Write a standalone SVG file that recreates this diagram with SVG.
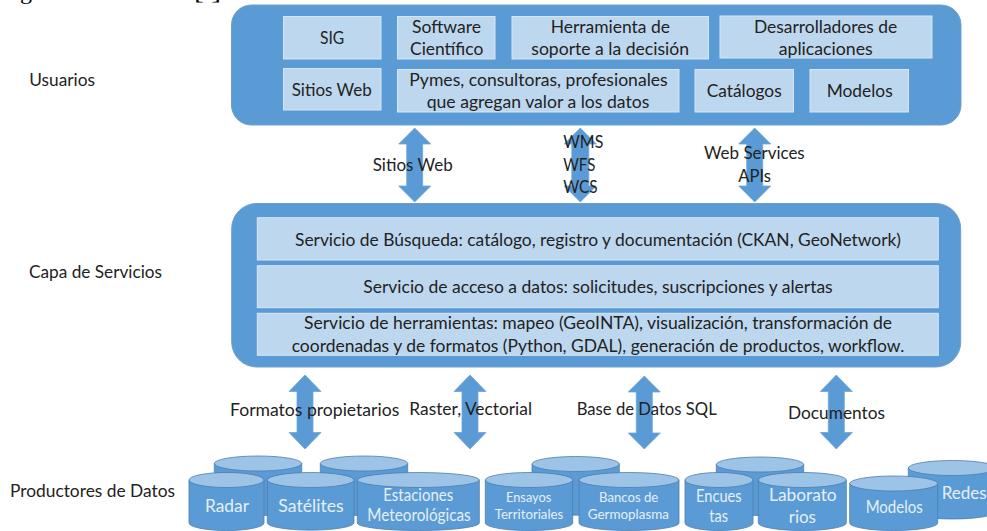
<svg xmlns="http://www.w3.org/2000/svg" width="987" height="531" viewBox="0 0 987 531">
<style>
text{font-family:"Lato","Carlito","Liberation Sans",sans-serif;font-size:17px;fill:#222}
.panel{fill:#5b9bd5;stroke:#6f9fc9;stroke-width:1}
.box{fill:#bdd7ee;stroke:#d6e6f5;stroke-width:1}
.arrow{fill:#5b9bd5;stroke:#6fa5d8;stroke-width:.8}
.body{fill:#5b9bd5;stroke:#4a7eb0;stroke-width:.8}
.lid{fill:#9dc3e6;stroke:#4a7eb0;stroke-width:.8}
text.w{fill:#e6eff8}
text.s{font-size:14px}
text.c{font-family:"Liberation Serif",serif;font-size:20px;fill:#000}
</style>
<text class="c" x="20" y="-1" textLength="12" lengthAdjust="spacingAndGlyphs">g</text>
<text class="c" x="194" y="-1" textLength="27" lengthAdjust="spacingAndGlyphs">[ ]</text>
<g id="labels">
<text x="29.3" y="86" textLength="65.7" lengthAdjust="spacingAndGlyphs">Usuarios</text>
<text x="29" y="278" textLength="133" lengthAdjust="spacingAndGlyphs">Capa de Servicios</text>
<text x="10" y="497" textLength="165" lengthAdjust="spacingAndGlyphs">Productores de Datos</text>
</g>
<g id="usuarios">
<rect class="panel" x="231.5" y="5" width="729.5" height="120" rx="20"/>
<rect class="box" x="283.5" y="16.5" width="97.5" height="42.5"/>
<rect class="box" x="397.5" y="16.5" width="97.5" height="42.5"/>
<rect class="box" x="512" y="16.5" width="196.5" height="42.5"/>
<rect class="box" x="720" y="16" width="212" height="42"/>
<rect class="box" x="283.5" y="68.5" width="97.5" height="41.5"/>
<rect class="box" x="397.5" y="69.5" width="281.5" height="42.5"/>
<rect class="box" x="695" y="69.5" width="98.5" height="42.5"/>
<rect class="box" x="810" y="69.5" width="98.5" height="42.5"/>
<text x="320" y="44" textLength="24.3" lengthAdjust="spacingAndGlyphs">SIG</text>
<text x="412" y="32.5" textLength="69" lengthAdjust="spacingAndGlyphs">Software</text>
<text x="410" y="55" textLength="73.3" lengthAdjust="spacingAndGlyphs">Científico</text>
<text x="550.7" y="32.5" textLength="119.3" lengthAdjust="spacingAndGlyphs">Herramienta de</text>
<text x="531.3" y="55" textLength="157.7" lengthAdjust="spacingAndGlyphs">soporte a la decisión</text>
<text x="754" y="32.5" textLength="143.3" lengthAdjust="spacingAndGlyphs">Desarrolladores de</text>
<text x="778.7" y="55" textLength="94" lengthAdjust="spacingAndGlyphs">aplicaciones</text>
<text x="291.7" y="95.5" textLength="80" lengthAdjust="spacingAndGlyphs">Sitios Web</text>
<text x="409.3" y="85.5" textLength="258.4" lengthAdjust="spacingAndGlyphs">Pymes, consultoras, profesionales</text>
<text x="426.7" y="108" textLength="222.6" lengthAdjust="spacingAndGlyphs">que agregan valor a los datos</text>
<text x="706.7" y="96.5" textLength="75" lengthAdjust="spacingAndGlyphs">Catálogos</text>
<text x="826.7" y="96.5" textLength="66" lengthAdjust="spacingAndGlyphs">Modelos</text>
</g>
<g id="servicios">
<rect class="panel" x="231.7" y="203.5" width="729" height="163.5" rx="25"/>
<rect class="box" x="257.3" y="217.7" width="681" height="42.3"/>
<rect class="box" x="257.3" y="265.7" width="681" height="42"/>
<rect class="box" x="257.3" y="313.3" width="681" height="42"/>
<text x="295" y="245.7" textLength="606" lengthAdjust="spacingAndGlyphs">Servicio de Búsqueda: catálogo, registro y documentación (CKAN, GeoNetwork)</text>
<text x="363.3" y="293.3" textLength="469.4" lengthAdjust="spacingAndGlyphs">Servicio de acceso a datos: solicitudes, suscripciones y alertas</text>
<text x="304" y="329.3" textLength="588" lengthAdjust="spacingAndGlyphs">Servicio de herramientas: mapeo (GeoINTA), visualización, transformación de</text>
<text x="291.7" y="351.7" textLength="612.6" lengthAdjust="spacingAndGlyphs">coordenadas y de formatos (Python, GDAL), generación de productos, workflow.</text>
</g>
<g id="connectors">
<path class="arrow" d="M414.7 128l16 16h-8v42h8l-16 16-16-16h8v-42h-8z"/>
<path class="arrow" d="M580.3 128l16 16h-7.5v42h7.5l-16 16-16-16h7.5v-42h-7.5z"/>
<path class="arrow" d="M754.7 128l16 16h-8v42h8l-16 16-16-16h8v-42h-8z"/>
<path class="arrow" d="M305 375l16 16.5h-8v41h8l-16 16.5-16-16.5h8v-41h-8z"/>
<path class="arrow" d="M470 375l16 16.5h-8v41h8l-16 16.5-16-16.5h8v-41h-8z"/>
<path class="arrow" d="M644.3 376l16 16h-8v41h8l-16 16-16-16h8v-41h-8z"/>
<path class="arrow" d="M836.3 375l16 16.5h-8v41h8l-16 16.5-16-16.5h8v-41h-8z"/>
</g>
<g id="connector-labels">
<text x="372.7" y="170.7" textLength="80" lengthAdjust="spacingAndGlyphs">Sitios Web</text>
<text x="563.3" y="148.3" textLength="40" lengthAdjust="spacingAndGlyphs">WMS</text>
<text x="563.3" y="170.7" textLength="32" lengthAdjust="spacingAndGlyphs">WFS</text>
<text x="563.3" y="193.3" textLength="34.4" lengthAdjust="spacingAndGlyphs">WCS</text>
<text x="704" y="159.3" textLength="100.7" lengthAdjust="spacingAndGlyphs">Web Services</text>
<text x="738.3" y="182" textLength="32.7" lengthAdjust="spacingAndGlyphs">APIs</text>
<text x="230" y="416" textLength="169.3" lengthAdjust="spacingAndGlyphs">Formatos propietarios</text>
<text x="409.3" y="415" textLength="122.7" lengthAdjust="spacingAndGlyphs">Raster, Vectorial</text>
<text x="576.7" y="415" textLength="140" lengthAdjust="spacingAndGlyphs">Base de Datos SQL</text>
<text x="788" y="419.3" textLength="97" lengthAdjust="spacingAndGlyphs">Documentos</text>
</g>
<g id="db-back-1"><path class="body" d="M214.3 463.5V508A43.7 7.5 0 0 0 301.7 508V463.5z"/><ellipse class="lid" cx="258" cy="463.5" rx="43.7" ry="7.5"/></g>
<g id="db-back-2"><path class="body" d="M320.3 463.5V508A43.7 7.5 0 0 0 407.7 508V463.5z"/><ellipse class="lid" cx="364" cy="463.5" rx="43.7" ry="7.5"/></g>
<g id="db-back-3"><path class="body" d="M532 464V508A43.7 7.5 0 0 0 619.3 508V464z"/><ellipse class="lid" cx="575.7" cy="464" rx="43.7" ry="7.5"/></g>
<g id="db-back-4"><path class="body" d="M716.3 464.5V508A43.7 7.5 0 0 0 803.7 508V464.5z"/><ellipse class="lid" cx="760" cy="464.5" rx="43.7" ry="7.5"/></g>
<g id="db-redes"><path class="body" d="M908.3 468V511.5A44 7.5 0 0 0 996.3 511.5V468z"/><ellipse class="lid" cx="952.3" cy="468" rx="44" ry="7.5"/><text class="w" x="941.7" y="499.3" textLength="45" lengthAdjust="spacingAndGlyphs">Redes</text></g>
<g id="db-radar"><path class="body" d="M189 480V523A37.5 7.5 0 0 0 264 523V480z"/><ellipse class="lid" cx="226.5" cy="480" rx="37.5" ry="7.5"/><text class="w" x="205" y="511.7" textLength="44" lengthAdjust="spacingAndGlyphs">Radar</text></g>
<g id="db-satelites"><path class="body" d="M267.3 480V523A43.4 7.5 0 0 0 354 523V480z"/><ellipse class="lid" cx="310.7" cy="480" rx="43.4" ry="7.5"/><text class="w" x="278.3" y="511.7" textLength="65.4" lengthAdjust="spacingAndGlyphs">Satélites</text></g>
<g id="db-estaciones"><path class="body" d="M357.3 480V523A61 7.5 0 0 0 479.3 523V480z"/><ellipse class="lid" cx="418.3" cy="480" rx="61" ry="7.5"/><text class="w" x="383.3" y="500.7" textLength="70" lengthAdjust="spacingAndGlyphs">Estaciones</text><text class="w" x="367.3" y="520.7" textLength="103.4" lengthAdjust="spacingAndGlyphs">Meteorológicas</text></g>
<g id="db-ensayos"><path class="body" d="M485.3 480V523A43.7 7.5 0 0 0 572.7 523V480z"/><ellipse class="lid" cx="529" cy="480" rx="43.7" ry="7.5"/><text class="w s" x="506" y="501.7" textLength="45.3" lengthAdjust="spacingAndGlyphs">Ensayos</text><text class="w s" x="494.7" y="518.7" textLength="68.6" lengthAdjust="spacingAndGlyphs">Territoriales</text></g>
<g id="db-bancos"><path class="body" d="M579 480V523A50 7.5 0 0 0 679 523V480z"/><ellipse class="lid" cx="629" cy="480" rx="50" ry="7.5"/><text class="w s" x="599" y="501.7" textLength="59.3" lengthAdjust="spacingAndGlyphs">Bancos de</text><text class="w s" x="587.7" y="518.7" textLength="81.3" lengthAdjust="spacingAndGlyphs">Germoplasma</text></g>
<g id="db-encuestas"><path class="body" d="M685 480V523A34 7.5 0 0 0 753 523V480z"/><ellipse class="lid" cx="719" cy="480" rx="34" ry="7.5"/><text class="w" x="696" y="501.7" textLength="45.7" lengthAdjust="spacingAndGlyphs">Encues</text><text class="w" x="709.3" y="521.7" textLength="18.7" lengthAdjust="spacingAndGlyphs">tas</text></g>
<g id="db-laboratorios"><path class="body" d="M758.3 480V523A44 7.5 0 0 0 846.3 523V480z"/><ellipse class="lid" cx="802.3" cy="480" rx="44" ry="7.5"/><text class="w" x="769" y="500.7" textLength="67.7" lengthAdjust="spacingAndGlyphs">Laborato</text><text class="w" x="788.7" y="523.3" textLength="27.3" lengthAdjust="spacingAndGlyphs">rios</text></g>
<g id="db-modelos"><path class="body" d="M849.7 483.5V523A44 7.5 0 0 0 937.7 523V483.5z"/><ellipse class="lid" cx="893.7" cy="483.5" rx="44" ry="7.5"/><text class="w" x="865.7" y="512.7" textLength="57" lengthAdjust="spacingAndGlyphs">Modelos</text></g>
</svg>
